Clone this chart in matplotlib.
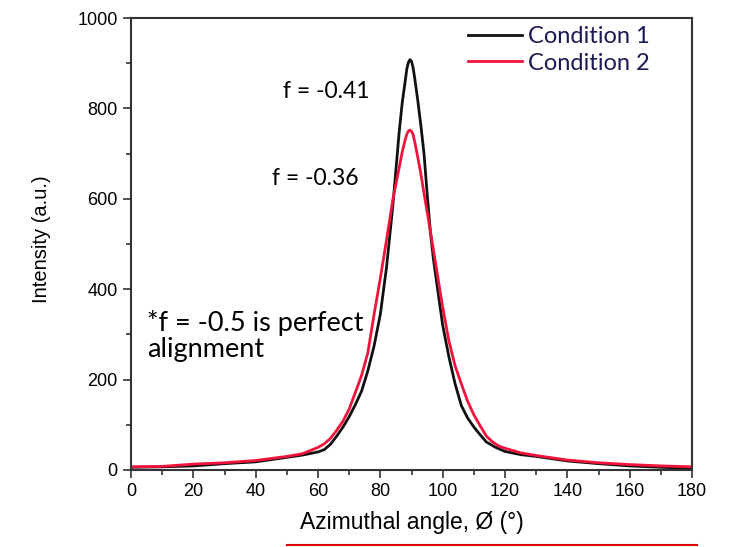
import matplotlib.pyplot as plt
from matplotlib.lines import Line2D
from matplotlib.ticker import MultipleLocator

# azimuthal intensity profiles
angle1 = [0, 10, 20, 30, 40, 50, 55, 60, 62, 64, 66, 68, 70, 72, 74, 76, 78, 80,
          82, 84, 85, 86, 87, 88, 88.5, 89, 89.5, 90, 90.5, 91, 92, 93, 94, 95, 96,
          97, 98, 100, 102, 104, 106, 108, 110, 112, 114, 117, 120, 125, 130, 135,
          140, 150, 160, 170, 180]
cond1 = [6, 7, 9, 14, 18, 28, 33, 40, 45, 57, 75, 95, 118, 145, 175, 220, 275, 345,
         450, 585, 665, 745, 812, 862, 888, 902, 908, 904, 890, 868, 818, 762, 700, 612, 530,
         468, 418, 320, 250, 190, 142, 115, 95, 78, 62, 50, 41, 34, 30, 25,
         20, 14, 9, 6, 3]

angle2 = [0, 10, 20, 30, 40, 50, 55, 60, 62, 64, 66, 68, 70, 72, 74, 76, 78, 80,
          82, 84, 86, 87, 88, 88.5, 89, 89.5, 90, 90.5, 91, 92, 93, 94, 95, 96, 97,
          98, 100, 102, 104, 106, 108, 110, 112, 114, 116, 118, 120, 125, 130, 135,
          140, 150, 160, 170, 180]
cond2 = [7, 8, 13, 16, 21, 30, 36, 50, 58, 70, 88, 108, 135, 172, 210, 260, 345, 425,
         510, 598, 668, 703, 732, 743, 750, 752, 749, 742, 727, 692, 655, 612, 572, 530, 488,
         445, 360, 285, 230, 190, 152, 122, 98, 75, 62, 53, 48, 38, 32, 27,
         22, 16, 12, 9, 7]

labels = ["Condition 1", "Condition 2"]

plt.rcParams['font.family'] = ['Liberation Sans', 'DejaVu Sans']

fig = plt.figure(figsize=(7.3, 5.47), dpi=100)
ax = fig.add_axes([0.1795, 0.1408, 0.7685, 0.8262])

ax.plot(angle1, cond1, color='#111111', lw=2, label=labels[0])
ax.plot(angle2, cond2, color='#f0143c', lw=2, label=labels[1])

ax.set_xlim(0, 180)
ax.set_ylim(0, 1000)
ax.xaxis.set_major_locator(MultipleLocator(20))
ax.xaxis.set_minor_locator(MultipleLocator(10))
ax.yaxis.set_major_locator(MultipleLocator(200))
ax.yaxis.set_minor_locator(MultipleLocator(100))
ax.tick_params(which='both', direction='out', labelsize=13, color='#333333', width=1.2)
ax.tick_params(which='major', length=6)
ax.tick_params(which='minor', length=3.5)
for s in ax.spines.values():
    s.set_color('#333333')
    s.set_linewidth(1.5)

ax.set_xlabel('Azimuthal angle, Ø (°)', fontsize=16.5)
ax.set_ylabel('Intensity (a.u.)', fontsize=14.5)
ax.xaxis.set_label_coords(0.5, -0.09)
ax.yaxis.set_label_coords(-0.142, 0.51)

note_font = ['Lato', 'DejaVu Sans']
ax.text(48.8, 838, 'f = -0.41', fontsize=16.5, family=note_font, va='center')
ax.text(45.1, 646, 'f = -0.36', fontsize=16.5, family=note_font, va='center')
ax.text(5.1, 355, '*f = -0.5 is perfect\nalignment', fontsize=19.5, family=note_font,
        va='top', linespacing=1.05)

leg = ax.legend(loc='upper right', frameon=False, handlelength=2.3,
                handletextpad=0.25, labelspacing=0.25, borderaxespad=0.1,
                bbox_to_anchor=(0.946, 1.009),
                prop={'family': note_font, 'size': 17})
for t in leg.get_texts():
    t.set_color('#1a1a55')

# red underline under the x label
fig.add_artist(Line2D([287 / 730, 697 / 730], [1 - 545 / 547] * 2,
                      color='#e00000', lw=1.5, transform=fig.transFigure))

fig.savefig('out.png', dpi=100)
